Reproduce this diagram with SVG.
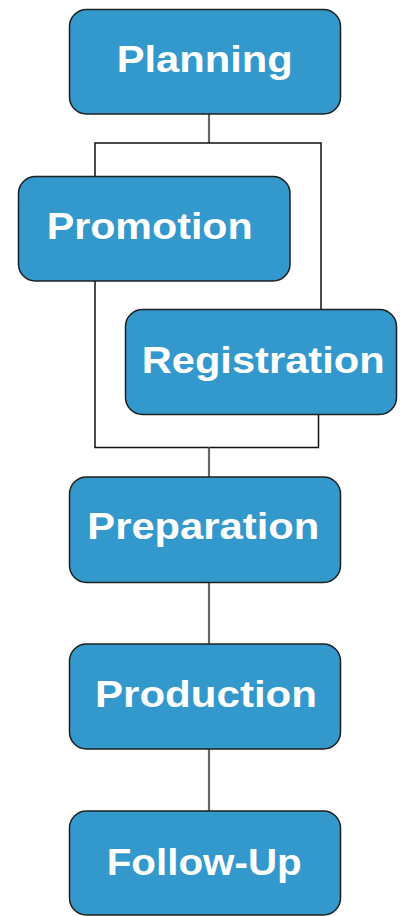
<svg xmlns="http://www.w3.org/2000/svg" width="402" height="916" viewBox="0 0 402 916">
<style>
.box{fill:#3399cc;stroke:#1f1f1f;stroke-width:1.5}
.lbl{font-family:"Liberation Sans",Arial,sans-serif;font-weight:bold;font-size:37.5px;fill:#ffffff}
.main{fill:none;stroke:#666666;stroke-width:2.2}
.br{fill:none;stroke:#111111;stroke-width:1.5}
</style>
<rect width="402" height="916" fill="#ffffff"/>
<g id="connectors">
<line class="main" x1="209" y1="114" x2="209" y2="143"/>
<polyline class="br" points="95,176 95,143 321,143 321,309"/>
<polyline class="br" points="95,281 95,447.5 318.5,447.5 318.5,415"/>
<line class="main" x1="209" y1="447.5" x2="209" y2="477"/>
<line class="main" x1="209" y1="583" x2="209" y2="644"/>
<line class="main" x1="209" y1="749" x2="209" y2="811"/>
</g>
<g id="planning">
<rect class="box" x="69.5" y="9.5" width="271" height="104.5" rx="17"/>
<text class="lbl" x="116.7" y="72.3" textLength="176" lengthAdjust="spacingAndGlyphs">Planning</text>
</g>
<g id="promotion">
<rect class="box" x="18.5" y="176.5" width="271.5" height="104.5" rx="17"/>
<text class="lbl" x="46.7" y="239" textLength="206" lengthAdjust="spacingAndGlyphs">Promotion</text>
</g>
<g id="registration">
<rect class="box" x="125.5" y="309.5" width="271" height="105" rx="17"/>
<text class="lbl" x="141.7" y="372.7" textLength="243" lengthAdjust="spacingAndGlyphs">Registration</text>
</g>
<g id="preparation">
<rect class="box" x="69.5" y="477" width="271" height="105.5" rx="17"/>
<text class="lbl" x="87.3" y="539.3" textLength="232" lengthAdjust="spacingAndGlyphs">Preparation</text>
</g>
<g id="production">
<rect class="box" x="69.5" y="644" width="271" height="105" rx="17"/>
<text class="lbl" x="95" y="706.7" textLength="222" lengthAdjust="spacingAndGlyphs">Production</text>
</g>
<g id="follow-up">
<rect class="box" x="69.5" y="811" width="271" height="104" rx="17"/>
<text class="lbl" x="106.7" y="875" textLength="195" lengthAdjust="spacingAndGlyphs">Follow-Up</text>
</g>
</svg>
